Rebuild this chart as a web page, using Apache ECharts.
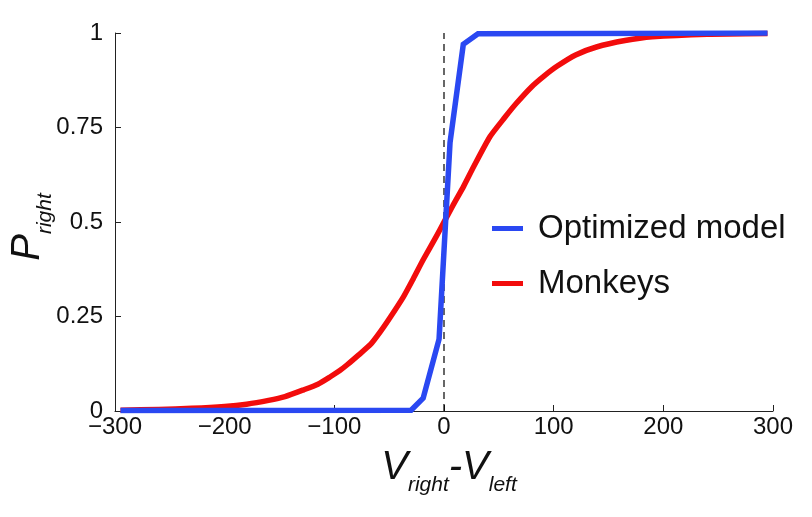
<!DOCTYPE html>
<html>
<head>
<meta charset="utf-8">
<script src="https://cdn.jsdelivr.net/npm/echarts@6/dist/echarts.min.js"></script>
<style>
html,body{margin:0;padding:0;background:#fff;}
#chart{width:812px;height:517px;}
</style>
</head>
<body>
<div id="chart"></div>
<script>
var seriesNames = ['Optimized model', 'Monkeys'];
var xTicks = [-300, -200, -100, 0, 100, 200, 300];
var yTicks = [0, 0.25, 0.5, 0.75, 1];

var modelX = [-295, -30, -19, -4.5, 5.5, 17.6, 31, 295];
var modelY = [0.001, 0.002, 0.034, 0.19, 0.71, 0.97, 0.998, 1.0];

var monkeyX = [-295, -260, -230, -200, -180, -160, -145, -128, -115, -104, -95, -88, -78, -67, -58, -49, -37, -28, -19, -7, 0, 8, 18, 27, 42, 55, 66, 80, 92, 103, 120, 139, 165, 190, 240, 295];
var monkeyY = [0.002, 0.004, 0.007, 0.012, 0.018, 0.028, 0.038, 0.056, 0.071, 0.09, 0.107, 0.123, 0.148, 0.176, 0.21, 0.248, 0.302, 0.35, 0.40, 0.462, 0.50, 0.543, 0.595, 0.646, 0.726, 0.775, 0.814, 0.858, 0.888, 0.912, 0.942, 0.963, 0.98, 0.99, 0.997, 0.999];

var zeroLineX = [0, 0];
var zeroLineY = [0, 1];

function pairs(xs, ys) { return xs.map(function (x, i) { return [x, ys[i]]; }); }

var FONT = '"Liberation Sans", Arial, Helvetica, sans-serif';
var chart = echarts.init(document.getElementById('chart'), null, {renderer: 'canvas'});
chart.setOption({
  animation: false,
  backgroundColor: '#fff',
  grid: {left: 115, right: 39, top: 33, bottom: 106, containLabel: false, outerBoundsMode: 'none'},
  legend: {
    data: seriesNames,
    orient: 'vertical',
    left: 487,
    top: 207,
    icon: 'rect',
    itemWidth: 31,
    itemHeight: 5,
    itemGap: 22,
    textStyle: {fontFamily: FONT, fontSize: 33, color: '#111', padding: [0, 0, 0, 10]}
  },
  xAxis: {
    type: 'value',
    min: xTicks[0],
    max: xTicks[xTicks.length - 1],
    interval: 100,
    splitLine: {show: false},
    axisLine: {show: true, onZero: false, lineStyle: {color: '#222', width: 1}},
    axisTick: {show: true, inside: true, length: 6, lineStyle: {color: '#222'}},
    axisLabel: {
      fontFamily: FONT, fontSize: 24, color: '#111', margin: 4,
      formatter: function (v) { return v < 0 ? '\u2212' + Math.abs(v) : String(v); }
    },
    name: '{v|V}{s|right}{v|-V}{s|left}',
    nameLocation: 'middle',
    nameGap: 37,
    nameTextStyle: {
      padding: [0, 0, 0, 10],
      rich: {
        v: {fontFamily: FONT, fontSize: 40, fontStyle: 'italic', color: '#111', lineHeight: 40, verticalAlign: 'top'},
        s: {fontFamily: FONT, fontSize: 21, fontStyle: 'italic', color: '#111', lineHeight: 48, verticalAlign: 'bottom'}
      }
    }
  },
  yAxis: {
    type: 'value',
    min: yTicks[0],
    max: yTicks[yTicks.length - 1],
    interval: 0.25,
    splitLine: {show: false},
    axisLine: {show: true, onZero: false, lineStyle: {color: '#222', width: 1}},
    axisTick: {show: true, inside: true, length: 6, lineStyle: {color: '#222'}},
    axisLabel: {fontFamily: FONT, fontSize: 24, color: '#111', margin: 12},
    name: '{v|P}{s|right}',
    nameLocation: 'middle',
    nameGap: 59,
    nameMoveOverlap: false,
    nameRotate: 90,
    nameTextStyle: {
      padding: [0, 10, 0, 0],
      rich: {
        v: {fontFamily: FONT, fontSize: 40, fontStyle: 'italic', color: '#111', lineHeight: 40, verticalAlign: 'top'},
        s: {fontFamily: FONT, fontSize: 21, fontStyle: 'italic', color: '#111', lineHeight: 48, verticalAlign: 'bottom'}
      }
    }
  },
  series: [
    {
      name: 'zero',
      type: 'line',
      data: pairs(zeroLineX, zeroLineY),
      showSymbol: false,
      silent: true,
      z: 1,
      lineStyle: {color: '#000', width: 1.2, type: [7, 5]}
    },
    {
      name: seriesNames[1],
      type: 'line',
      data: pairs(monkeyX, monkeyY),
      showSymbol: false,
      smooth: 0.2,
      z: 2,
      color: '#f20c0c',
      lineStyle: {color: '#f20c0c', width: 5.5, join: 'round'}
    },
    {
      name: seriesNames[0],
      type: 'line',
      data: pairs(modelX, modelY),
      showSymbol: false,
      z: 3,
      color: '#2a48f2',
      lineStyle: {color: '#2a48f2', width: 5.5, join: 'miter'}
    }
  ]
});
</script>
</body>
</html>
